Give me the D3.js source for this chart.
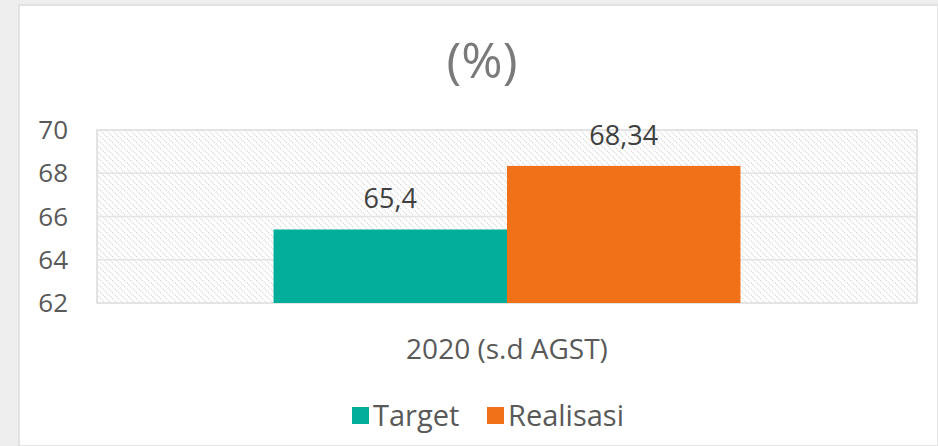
<!DOCTYPE html>
<html lang="en">
<head>
    <meta charset="UTF-8">
    <title>Target vs Realisasi</title>
    <script src="https://d3js.org/d3.v7.min.js"></script>
    <style>
        body {
            margin: 0;
            background: #efeeee;
            font-family: "Open Sans", Arial, sans-serif;
        }
        svg {
            display: block;
        }
    </style>
</head>
<body>
    <div id="container"></div>

    <script>
        // data
        const categories = ['2020 (s.d AGST)'];
        const seriesNames = ['Target', 'Realisasi'];
        const targetValues = [65.4];
        const realisasiValues = [68.34];
        const yTicks = [62, 64, 66, 68, 70];
        const colors = ['#03af9a', '#f07118'];

        const width = 938, height = 446;
        const margin = {left: 97, right: 21, top: 130, bottom: 143};

        const svg = d3.select('#container').append('svg')
            .attr('width', width)
            .attr('height', height);

        // white panel
        svg.append('rect')
            .attr('x', 19).attr('y', 5)
            .attr('width', width - 19).attr('height', height - 5)
            .attr('fill', '#ffffff')
            .attr('stroke', '#dcdcdc')
            .attr('stroke-width', 1.5);

        // hatch pattern for plot area
        const defs = svg.append('defs');
        const pat = defs.append('pattern')
            .attr('id', 'hatch')
            .attr('patternUnits', 'userSpaceOnUse')
            .attr('width', 6).attr('height', 6);
        pat.append('path')
            .attr('d', 'M-1,-1 L7,7 M-4,2 L2,8 M2,-4 L8,2')
            .attr('stroke', '#d6d6d6')
            .attr('stroke-width', 1.2)
            .attr('stroke-dasharray', '1.4,1');

        const x0 = d3.scaleBand()
            .domain(categories)
            .range([margin.left, width - margin.right])
            .paddingOuter(0.378)
            .paddingInner(0);

        const x1 = d3.scaleBand()
            .domain(seriesNames)
            .range([0, x0.bandwidth()]);

        const y = d3.scaleLinear()
            .domain([62, 70])
            .range([height - margin.bottom, margin.top]);

        const plotW = width - margin.right - margin.left;

        svg.append('rect')
            .attr('x', margin.left).attr('y', margin.top)
            .attr('width', plotW)
            .attr('height', y(62) - y(70))
            .attr('fill', 'url(#hatch)')
            .attr('stroke', '#dcdcdc')
            .attr('stroke-width', 1.5);

        // gridlines
        svg.selectAll('.grid')
            .data(yTicks.slice(1, -1))
            .enter()
            .append('line')
            .attr('x1', margin.left).attr('x2', margin.left + plotW)
            .attr('y1', d => y(d)).attr('y2', d => y(d))
            .attr('stroke', '#e4e4e4')
            .attr('stroke-width', 1.5);

        // y tick labels
        svg.selectAll('.ytick')
            .data(yTicks)
            .enter()
            .append('text')
            .attr('x', 68)
            .attr('y', d => y(d))
            .attr('dy', '0.35em')
            .attr('text-anchor', 'end')
            .attr('fill', '#595959')
            .style('font-size', '26px')
            .text(d => d);

        const rows = seriesNames.map((s, i) => ({
            name: s,
            value: [targetValues, realisasiValues][i][0],
            color: colors[i]
        }));

        // bars
        svg.selectAll('.bar')
            .data(rows)
            .enter()
            .append('rect')
            .attr('x', d => x0(categories[0]) + x1(d.name))
            .attr('y', d => y(d.value))
            .attr('width', x1.bandwidth())
            .attr('height', d => y(62) - y(d.value))
            .attr('fill', d => d.color);

        // value labels
        svg.selectAll('.val')
            .data(rows)
            .enter()
            .append('text')
            .attr('x', d => x0(categories[0]) + x1(d.name) + x1.bandwidth() / 2)
            .attr('y', d => y(d.value) - 21)
            .attr('text-anchor', 'middle')
            .attr('fill', '#404040')
            .style('font-size', '27px')
            .text(d => String(d.value).replace('.', ','));

        // category label
        svg.append('text')
            .attr('x', x0(categories[0]) + x0.bandwidth() / 2)
            .attr('y', 359)
            .attr('text-anchor', 'middle')
            .attr('fill', '#595959')
            .style('font-size', '28px')
            .text(categories[0]);

        // title
        svg.append('text')
            .attr('x', 482)
            .attr('y', 78)
            .attr('text-anchor', 'middle')
            .attr('fill', '#7a7a7a')
            .style('font-size', '50px')
            .text('(%)');

        // legend
        const legendX = [352, 487];
        const leg = svg.selectAll('.leg')
            .data(rows)
            .enter()
            .append('g')
            .attr('transform', (d, i) => `translate(${legendX[i]},407)`);
        leg.append('rect')
            .attr('width', 17).attr('height', 17)
            .attr('fill', d => d.color);
        leg.append('text')
            .attr('x', 21)
            .attr('y', 9)
            .attr('dy', '0.35em')
            .attr('fill', '#595959')
            .style('font-size', '29px')
            .text(d => d.name);
    </script>
</body>
</html>
